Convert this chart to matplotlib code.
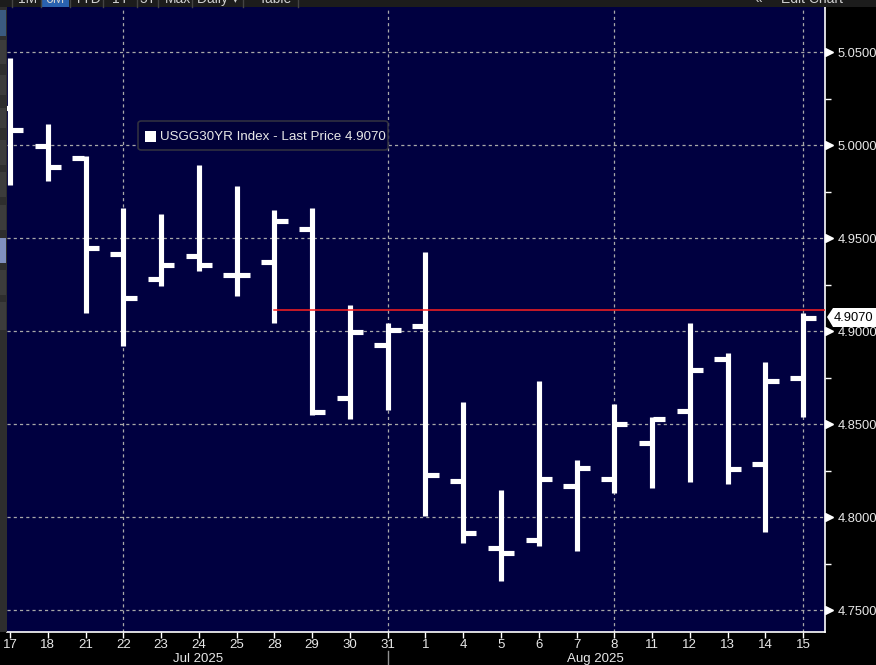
import numpy as np
import matplotlib
matplotlib.use("Agg")
import matplotlib.pyplot as plt
from matplotlib.patches import Rectangle, FancyBboxPatch, Polygon
import matplotlib.transforms as mtransforms

plt.rcParams['font.family'] = ['Liberation Sans', 'DejaVu Sans']

# daily OHLC of the US 30Y yield, 17 Jul - 15 Aug 2025
days = ['17', '18', '21', '22', '23', '24', '25', '28', '29', '30', '31',
        '1', '4', '5', '6', '7', '8', '11', '12', '13', '14', '15']
opens = [5.020, 4.9995, 4.993, 4.9414, 4.928, 4.9403, 4.930, 4.9371, 4.9548, 4.864, 4.8925,
         4.9027, 4.8194, 4.7833, 4.7876, 4.8167, 4.8204, 4.8398, 4.857, 4.885, 4.8285, 4.8747]
highs = [5.0468, 5.0113, 4.994, 4.9661, 4.9629, 4.9892, 4.978, 4.965, 4.9661, 4.914, 4.9043,
         4.9425, 4.8618, 4.8145, 4.8731, 4.8306, 4.8608, 4.8538, 4.9043, 4.8882, 4.8833, 4.9097]
lows = [4.9785, 4.9806, 4.9097, 4.892, 4.9242, 4.9323, 4.919, 4.9043, 4.8548, 4.8527, 4.8575,
        4.8005, 4.786, 4.7656, 4.7844, 4.7817, 4.8129, 4.8156, 4.8188, 4.8177, 4.792, 4.8538]
closes = [5.008, 4.9882, 4.9446, 4.9177, 4.9355, 4.9355, 4.930, 4.9591, 4.8565, 4.8995, 4.9005,
          4.8226, 4.7914, 4.7806, 4.8204, 4.8263, 4.850, 4.8527, 4.879, 4.8258, 4.8731, 4.907]
last_price = 4.907
ref_line = 4.9113
yticks = [4.75, 4.80, 4.85, 4.90, 4.95, 5.00, 5.05]
grid_days = ['22', '31', '8', '15']
months = ['Jul 2025', 'Aug 2025']
toolbar = ['1M', '6M', 'YTD', '1Y', '5Y', 'Max', 'Daily \u25be', 'Table']

W, H = 876, 665
fig = plt.figure(figsize=(W / 100, H / 100), dpi=100, facecolor='black')


def fx(px):
    return px / W


def fy(py):
    return 1 - py / H


ax = fig.add_axes([fx(7), fy(632), fx(825) - fx(7), fy(7) - fy(632)])
ax.set_facecolor('#000040')

x = np.arange(len(days))
tick = 0.35
ax.vlines(x, lows, highs, color='white', lw=3.7, capstyle='butt', zorder=3)
ax.hlines(opens, x - tick, x - 0.03, color='white', lw=3.7, zorder=3)
ax.hlines(closes, x + 0.03, x + tick, color='white', lw=3.7, zorder=3)

ax.set_xlim(-0.08, 21.58)
ax.set_ylim(4.7382, 5.0742)

# red reference line from 28 Jul onwards
ax.plot([7, 21.58], [ref_line, ref_line], color='#ff2020', lw=1.1, zorder=4)

# grids
gx = [days.index(d) for d in grid_days]
for g in gx:
    ax.axvline(g, color='#a8a8a8', lw=0.9, ls=(0, (2.5, 2.5)), zorder=1)
for yt in yticks:
    ax.axhline(yt, color='#a8a8a8', lw=0.9, ls=(0, (2.5, 2.5)), zorder=1)

for s in ['top', 'left']:
    ax.spines[s].set_visible(False)
for s in ['right', 'bottom']:
    ax.spines[s].set_color('white')
    ax.spines[s].set_linewidth(1.2)

ax.yaxis.tick_right()
ax.set_yticks(yticks)
ax.set_yticklabels(['%.4f' % v for v in yticks])
ax.set_yticks(np.arange(4.775, 5.06, 0.05), minor=True)
ax.tick_params(axis='y', which='major', length=0, pad=9, colors='#e8e8e8', labelsize=9.3)
ax.tick_params(axis='y', which='minor', length=4, width=1, color='white', direction='out')
trans = mtransforms.blended_transform_factory(ax.transAxes, ax.transData)
ax.plot([1.0055] * len(yticks), yticks, marker='>', ms=5.5, color='white', ls='none',
        transform=trans, clip_on=False)

ax.set_xticks(x)
ax.set_xticklabels(days)
ax.tick_params(axis='x', length=4, width=1, color='white', direction='out',
               labelsize=9.5, pad=1)
for lbl in ax.get_xticklabels():
    lbl.set_color('#e8e8e8')

# month labels
fig.text(fx(198), fy(659), months[0], color='#e8e8e8', fontsize=9.5, ha='center', va='center')
fig.text(fx(595), fy(659), months[1], color='#e8e8e8', fontsize=9.5, ha='center', va='center')
fig.add_artist(plt.Line2D([fx(388), fx(388)], [fy(651), fy(665)], color='#909090', lw=1))

# legend box
fig.patches.append(FancyBboxPatch((fx(138), fy(150)), fx(388) - fx(138), fy(121) - fy(150),
                                  boxstyle='round,pad=0,rounding_size=0.004',
                                  transform=fig.transFigure, fc='#000038', ec='#303040', lw=1.2))
fig.patches.append(Rectangle((fx(145), fy(142)), fx(11), fy(131) - fy(142),
                             transform=fig.transFigure, fc='white', ec='none'))
fig.text(fx(160), fy(136.5), 'USGG30YR Index - Last Price 4.9070', color='#e8e8e8',
         fontsize=9.6, ha='left', va='center')

# last price tag on the axis
tag = Polygon([[fx(827), fy(317)], [fx(833), fy(308)], [fx(876), fy(308)],
               [fx(876), fy(327)], [fx(833), fy(327)]], closed=True,
              transform=fig.transFigure, fc='white', ec='none')
fig.patches.append(tag)
fig.text(fx(834), fy(317.5), '4.9070', color='black', fontsize=9.3, ha='left', va='center')

# top toolbar (cut off)
fig.patches.append(Rectangle((0, fy(7)), 1, fy(0) - fy(7), transform=fig.transFigure,
                             fc='#1c1c1c', ec='none'))
fig.patches.append(Rectangle((fx(42), fy(7)), fx(27), fy(0) - fy(7), transform=fig.transFigure,
                             fc='#2a62b0', ec='none'))
tb_x = [28, 55, 88, 120, 148, 178, 218, 275]
for t, px in zip(toolbar, tb_x):
    fig.text(fx(px), fy(3), t, color='#d0d0d0', fontsize=10, ha='center', va='baseline')
for px in [12, 41, 70, 103, 137, 158, 192, 243, 298]:
    fig.add_artist(plt.Line2D([fx(px), fx(px)], [fy(7), 1], color='#444444', lw=1))
fig.text(fx(758), fy(3), '\u00ab', color='#d0d0d0', fontsize=10, ha='center', va='baseline')
fig.text(fx(781), fy(3), 'Edit Chart', color='#d0d0d0', fontsize=10, ha='left', va='baseline')

# left side panel
fig.patches.append(Rectangle((0, fy(632)), fx(7), fy(7) - fy(632), transform=fig.transFigure,
                             fc='#2e2e2e', ec='none'))
for y0, y1, c in [(10, 36, '#3a5a80'), (40, 64, '#3c3c3c'), (75, 95, '#3c3c3c'),
                  (108, 128, '#3c3c3c'), (140, 165, '#3c3c3c'), (172, 197, '#3c3c3c'),
                  (205, 230, '#3c3c3c'), (238, 263, '#8090c0'), (270, 295, '#3c3c3c'),
                  (302, 330, '#3c3c3c')]:
    fig.patches.append(Rectangle((0, fy(y1)), fx(6), fy(y0) - fy(y1), transform=fig.transFigure,
                                 fc=c, ec='none'))

fig.savefig('out.png', dpi=100, facecolor='black')
